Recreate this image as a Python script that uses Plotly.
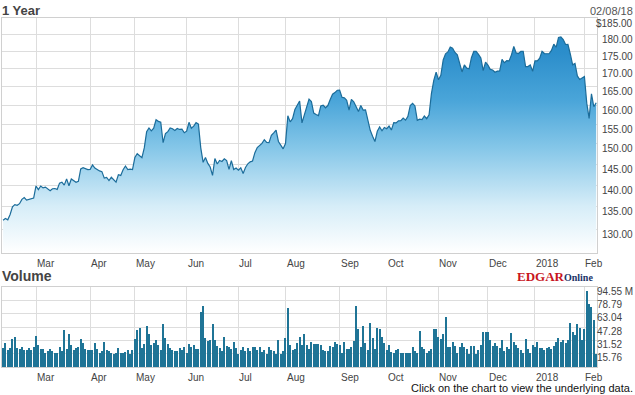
import math
import plotly.graph_objects as go

# ---------------- data ----------------
month_labels = ["Mar", "Apr", "May", "Jun", "Jul", "Aug", "Sep", "Oct", "Nov", "Dec", "2018", "Feb"]
# trading days in each month shown: Feb'17 (from the 8th) ... Feb'18 (to the 8th)
trading_days_per_month = [14, 23, 19, 22, 22, 20, 23, 20, 22, 21, 20, 21, 6]

close = [
    # Feb 2017
    132.04, 132.42, 132.12, 133.29, 135.02, 135.51, 135.35, 135.72, 136.70, 137.11, 136.53, 136.66, 136.93, 136.99,
    # Mar
    139.79, 138.96, 139.78, 139.34, 139.52, 139.00, 138.68, 139.14, 139.20, 138.99, 140.46, 140.69, 139.99, 141.46,
    139.84, 141.42, 140.92, 140.64, 140.88, 143.80, 144.12, 143.93, 143.66,
    # Apr
    143.70, 144.77, 144.02, 143.66, 143.34, 143.17, 141.63, 141.80, 141.05, 141.83, 141.20, 140.68, 142.44, 142.27,
    143.64, 144.53, 143.68, 143.79, 143.65,
    # May
    146.58, 147.51, 147.06, 146.53, 148.96, 153.01, 153.99, 153.26, 153.95, 156.10, 155.70, 155.47, 150.25, 152.54,
    153.06, 153.99, 153.80, 153.34, 153.87, 153.61, 153.67, 152.76,
    # Jun
    153.18, 155.45, 153.93, 154.45, 155.37, 154.99, 148.98, 145.42, 146.59, 145.16, 144.29, 142.27, 146.34, 145.01,
    145.87, 145.63, 146.28, 145.82, 143.73, 145.83, 143.68, 144.02,
    # Jul
    143.50, 144.09, 142.73, 144.18, 145.06, 145.53, 145.74, 147.77, 149.04, 149.56, 150.08, 151.02, 150.34, 150.27,
    152.09, 152.74, 153.46, 150.56, 149.50, 148.73,
    # Aug
    150.05, 157.14, 155.57, 156.39, 158.81, 160.08, 161.06, 155.32, 157.48, 159.85, 161.60, 160.95, 157.86, 157.50,
    157.21, 159.78, 159.98, 159.27, 159.86, 161.47, 162.91, 163.35, 164.00,
    # Sep
    164.05, 162.08, 161.91, 161.26, 158.63, 161.50, 160.86, 159.65, 158.28, 159.88, 158.67, 158.73, 156.07, 153.39,
    151.89, 150.55, 153.14, 154.23, 153.28, 154.12,
    # Oct
    153.81, 154.48, 153.48, 155.39, 155.30, 155.84, 155.90, 156.55, 156.00, 156.99, 159.88, 160.47, 159.76, 155.98,
    156.25, 156.17, 157.10, 156.41, 157.41, 163.05, 166.72, 169.04,
    # Nov
    166.89, 168.11, 172.50, 174.25, 174.81, 176.24, 175.88, 174.67, 173.97, 171.34, 169.08, 171.10, 170.15, 169.98,
    173.14, 174.96, 174.97, 174.09, 173.07, 169.48, 171.85,
    # Dec
    171.05, 169.80, 169.64, 169.01, 169.32, 169.37, 172.67, 171.70, 172.27, 172.22, 173.97, 176.42, 174.54, 174.35,
    175.01, 175.01, 170.57, 170.60, 171.08, 169.23,
    # Jan 2018
    172.26, 172.23, 173.03, 175.00, 174.35, 174.33, 174.29, 175.28, 177.09, 176.19, 179.10, 179.26, 178.46, 177.00,
    177.04, 174.22, 171.11, 171.51, 167.96, 166.97, 167.43,
    # Feb 2018
    167.78, 160.50, 156.49, 163.03, 159.54, 160.60,
]

volume_m = [
    22, 28, 20, 22, 33, 35, 22, 21, 24, 20, 20, 22, 20, 24, 37, 26, 21, 21, 17, 19,
    21, 19, 17, 16, 24, 19, 44, 21, 39, 26, 20, 22, 24, 33, 28, 21, 20, 20, 20, 28,
    21, 17, 19, 29, 20, 19, 17, 15, 16, 22, 17, 17, 18, 20, 15, 20, 33, 44, 46, 22,
    27, 48,
    39, 26, 28, 32, 26, 20, 51, 34, 27, 22, 20, 19, 19, 22, 20, 24, 17, 27, 24, 26,
    21, 21, 65, 72, 34, 31, 32, 51, 32, 25, 22, 19, 35, 25, 24, 21, 30, 22, 15, 20,
    24, 19, 23, 19, 24, 24, 20, 24, 18, 20, 15, 24, 20, 19, 15, 32, 15, 19, 34, 70,
    26, 20, 21, 28, 35,
    26, 39, 26, 21, 29, 27, 27, 27, 26, 20, 19, 19, 25, 24, 30, 27, 26, 17, 30, 21,
    21, 24, 31, 72, 45, 24, 49, 28, 20, 52, 34, 21, 46, 45, 35, 28, 20, 26, 18, 16,
    20, 21, 16, 17, 17, 17, 17, 24, 19, 16, 42, 24, 21, 17, 19, 21, 45, 45, 35, 33,
    39, 59,
    24, 24, 29, 25, 17, 24, 28, 24, 21, 15, 25, 25, 15, 20, 26, 41, 41, 41, 32, 25,
    28, 25, 22, 32, 19, 24, 21, 40, 29, 26, 23, 20, 16, 33, 21, 17, 26, 24, 29, 23,
    23, 20, 22, 24, 21, 25, 29, 34, 30, 32, 28, 32, 52, 41, 38, 51, 46, 32, 45, 90,
    75, 71, 55, 15,
]

price_ticks = [130, 135, 140, 145, 150, 155, 160, 165, 170, 175, 180, 185]
price_tick_text = ["130.00", "135.00", "140.00", "145.00", "150.00", "155.00", "160.00",
                   "165.00", "170.00", "175.00", "180.00", "$185.00"]
vol_ticks = [0, 15.76, 31.52, 47.28, 63.04, 78.79, 94.55]
vol_tick_text = ["", "15.76", "31.52", "47.28", "63.04", "78.79", "94.55 M"]

title_text = "1 Year"
date_text = "02/08/18"
volume_title = "Volume"
footer_text = "Click on the chart to view the underlying data."

# ---------------- layout helpers ----------------
W, H = 635, 395
def px(xp):
    return xp / W
def py(yp):
    return 1 - yp / H

x = list(range(len(close)))
month_start = []
acc = 0
for n in trading_days_per_month[:-1]:
    acc += n
    month_start.append(acc)

x_range = [-0.45, len(close) - 0.65]
grid = "#dddddd"
border = "#d0d0d0"
label_font = dict(family="Liberation Sans, Arial", size=10, color="#444444")

fig = go.Figure()

# baseline for filled area
fig.add_trace(go.Scatter(
    x=x, y=[125] * len(x), mode="lines", line=dict(width=0, color="rgba(0,0,0,0)"),
    hoverinfo="skip", showlegend=False, xaxis="x", yaxis="y"))
fig.add_trace(go.Scatter(
    x=x, y=close, mode="lines", line=dict(color="#1b6c9a", width=1.2),
    fill="tonexty",
    fillgradient=dict(type="vertical", start=125, stop=185,
                      colorscale=[[0, "#ffffff"], [0.2, "#d6edf8"], [0.45, "#84c6e8"],
                                  [0.65, "#4aa5d9"], [0.85, "#2c8ecb"], [1, "#1f84c3"]]),
    showlegend=False, xaxis="x", yaxis="y", name="Price"))

fig.add_trace(go.Bar(
    x=x, y=volume_m, width=0.45, marker=dict(color="#1f7496", line=dict(width=0)),
    showlegend=False, xaxis="x2", yaxis="y2", name="Volume"))

common_x = dict(domain=[px(2), px(597)], range=x_range, tickvals=month_start, showticklabels=False,
                showgrid=True, gridcolor=grid, gridwidth=1, zeroline=False, showline=True,
                mirror=True, linecolor=border, linewidth=1, ticks="")

annotations = []
annotations.append(dict(text="<b>%s</b>" % title_text, x=px(0), y=py(10), xref="paper", yref="paper",
                        xanchor="left", yanchor="middle", showarrow=False,
                        font=dict(family="Liberation Sans, Arial", size=13, color="#444444")))
annotations.append(dict(text=date_text, x=px(635), y=py(11), xref="paper", yref="paper",
                        xanchor="right", yanchor="middle", showarrow=False,
                        font=dict(family="Liberation Sans, Arial", size=11, color="#555555")))
for v, t in zip(price_ticks, price_tick_text):
    annotations.append(dict(text=t, x=px(635), y=math.log10(v), xref="paper", yref="y",
                            xanchor="right", yanchor="middle", yshift=-5, showarrow=False, font=label_font))
for ms, lab in zip(month_start, month_labels):
    annotations.append(dict(text=lab, x=ms, y=py(263), xref="x", yref="paper", xanchor="left",
                            yanchor="middle", xshift=-1, showarrow=False, font=label_font))
    annotations.append(dict(text=lab, x=ms, y=py(377), xref="x2", yref="paper", xanchor="left",
                            yanchor="middle", xshift=-1, showarrow=False, font=label_font))
annotations.append(dict(text="<b>%s</b>" % volume_title, x=px(0), y=py(276), xref="paper", yref="paper",
                        xanchor="left", yanchor="middle", showarrow=False,
                        font=dict(family="Liberation Sans, Arial", size=14, color="#444444")))
for v, t in zip(vol_ticks, vol_tick_text):
    if t:
        annotations.append(dict(text=t, x=px(595), y=v, xref="paper", yref="y2",
                                xanchor="left", yanchor="middle", yshift=-4, showarrow=False, font=label_font))
annotations.append(dict(
    text="<b><span style='color:#c8161d'>EDGAR</span><span style='color:#1c3468;font-size:10px'>Online</span></b>",
    x=px(515), y=py(276), xref="paper", yref="paper", xanchor="left", yanchor="middle", showarrow=False,
    font=dict(family="Liberation Serif, Times New Roman, serif", size=13)))
annotations.append(dict(text=footer_text, x=px(635), y=py(388), xref="paper", yref="paper",
                        xanchor="right", yanchor="middle", showarrow=False,
                        font=dict(family="Liberation Sans, Arial", size=11, color="#111111")))

fig.update_layout(
    width=W, height=H, margin=dict(l=0, r=0, t=0, b=0),
    paper_bgcolor="white", plot_bgcolor="white",
    xaxis=dict(anchor="y", **common_x),
    yaxis=dict(domain=[py(253), py(18)], type="log", range=[math.log10(125), math.log10(185)],
               tickvals=price_ticks, showticklabels=False, showgrid=True, gridcolor=grid,
               zeroline=False, showline=True, mirror=True, linecolor=border, ticks=""),
    xaxis2=dict(anchor="y2", **common_x),
    yaxis2=dict(domain=[py(367), py(287)], range=[0, 94.55], tickvals=vol_ticks, showticklabels=False,
                showgrid=True, gridcolor=grid, zeroline=False, showline=True, mirror=True,
                linecolor=border, ticks=""),
    annotations=annotations,
    bargap=0,
)

fig.write_html("out.html", config={"displayModeBar": False},
               post_script="document.body.style.margin='0';")
